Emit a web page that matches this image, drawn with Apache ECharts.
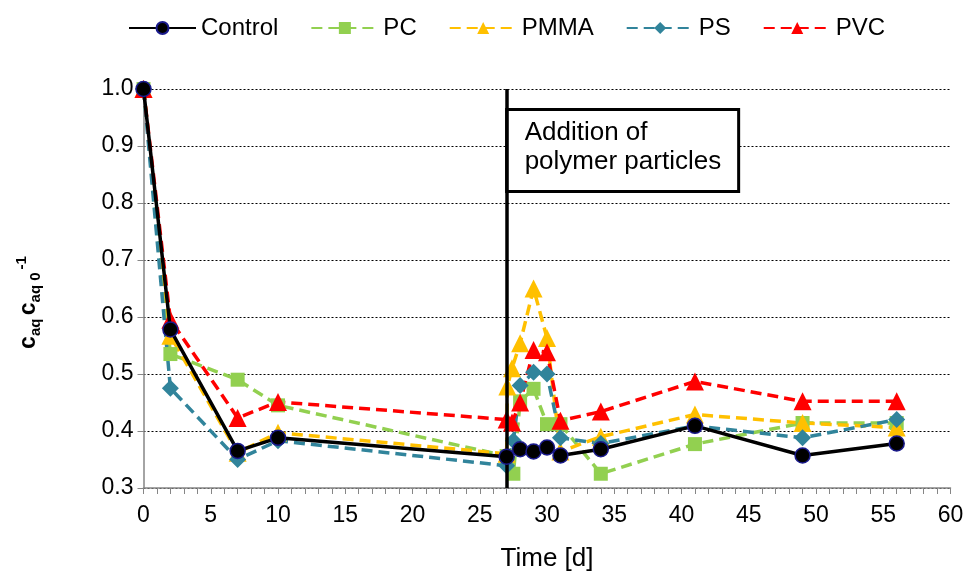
<!DOCTYPE html>
<html>
<head>
<meta charset="utf-8">
<script src="https://cdn.jsdelivr.net/npm/echarts@6/dist/echarts.min.js"></script>
<style>
html,body{margin:0;padding:0;background:#fff;}
#chart{width:970px;height:577px;}
</style>
</head>
<body>
<div id="chart"></div>
<script>
// Sampling times (days) and normalised aqueous concentrations per treatment
const controlTimes = [0, 2, 7, 10, 27, 28, 29, 30, 31, 34, 41, 49, 56];
const controlValues = [1.0, 0.578, 0.365, 0.388, 0.355, 0.368, 0.364, 0.371, 0.357, 0.368, 0.409, 0.357, 0.378];

const pcTimes = [0, 2, 7, 10, 27, 27.5, 28, 29, 30, 31, 34, 41, 49, 56];
const pcValues = [1.0, 0.535, 0.49, 0.445, 0.356, 0.325, 0.452, 0.474, 0.412, 0.412, 0.325, 0.377, 0.414, 0.414];

const pmmaTimes = [0, 2, 7, 10, 27, 27.05, 27.4, 28, 29, 30, 31, 34, 41, 49, 56];
const pmmaValues = [1.0, 0.567, 0.362, 0.397, 0.36, 0.478, 0.51, 0.554, 0.65, 0.563, 0.364, 0.39, 0.429, 0.414, 0.406];

const psTimes = [0, 2, 7, 10, 27, 27.5, 28, 29, 30, 31, 34, 41, 49, 56];
const psValues = [1.0, 0.475, 0.35, 0.383, 0.339, 0.383, 0.48, 0.503, 0.5, 0.388, 0.378, 0.409, 0.388, 0.42];

const pvcTimes = [0, 2, 7, 10, 27, 27.4, 28, 29, 30, 31, 34, 41, 49, 56];
const pvcValues = [1.0, 0.595, 0.423, 0.451, 0.42, 0.415, 0.45, 0.542, 0.538, 0.418, 0.434, 0.487, 0.452, 0.452];

const additionDay = 27;
const yTicks = [0.3, 0.4, 0.5, 0.6, 0.7, 0.8, 0.9, 1.0];
const xTicks = [0, 5, 10, 15, 20, 25, 30, 35, 40, 45, 50, 55, 60];

const FONT = '"Liberation Sans", Arial, sans-serif';

function pairs(t, v) { return t.map((x, i) => [x, v[i]]); }

const chart = echarts.init(document.getElementById('chart'), null, { renderer: 'canvas' });

function dashedSeries(name, t, v, color, symbol, size) {
  return {
    name: name, type: 'line', data: pairs(t, v),
    symbol: symbol, symbolSize: size,
    itemStyle: { color: color, borderWidth: 0 },
    lineStyle: { color: color, width: 3.5, type: [11, 6] },
    emphasis: { disabled: true }, animation: false
  };
}

chart.setOption({
  animation: false,
  textStyle: { fontFamily: FONT },
  legend: {
    top: 11, left: 123, itemGap: 32, itemWidth: 67, itemHeight: 15,
    textStyle: { fontSize: 24, color: '#000', fontFamily: FONT },
    data: ['Control', 'PC', 'PMMA', 'PS', 'PVC']
  },
  grid: { left: 143.5, right: 19.5, top: 89, bottom: 87 },
  xAxis: {
    type: 'value', min: 0, max: 60, interval: 5,
    name: 'Time [d]', nameLocation: 'middle', nameGap: 58,
    nameTextStyle: { fontSize: 26, color: '#000', fontFamily: FONT, verticalAlign: 'top' },
    axisLine: { lineStyle: { color: '#868686', width: 1.5 } },
    axisTick: { show: true, length: 6, lineStyle: { color: '#868686' } },
    minorTick: { show: true, splitNumber: 5, length: 6, lineStyle: { color: '#868686' } },
    axisLabel: { fontSize: 23, color: '#000', margin: 16, fontFamily: FONT,
      formatter: v => xTicks.indexOf(v) >= 0 ? String(v) : '' },
    splitLine: { show: false }
  },
  yAxis: {
    type: 'value', min: 0.3, max: 1.0, interval: 0.1,
    axisLine: { show: true, lineStyle: { color: '#868686', width: 1.5 } },
    axisTick: { show: true, length: 6, lineStyle: { color: '#868686' } },
    axisLabel: { fontSize: 23, color: '#000', margin: 10, fontFamily: FONT,
      formatter: v => {
        const t = yTicks.find(y => Math.abs(y - v) < 1e-6);
        return t === undefined ? '' : t.toFixed(1);
      } },
    splitLine: { show: true, lineStyle: { color: '#000', width: 1, type: [2, 2] } }
  },
  series: [
    {
      name: 'Control', type: 'line', data: pairs(controlTimes, controlValues),
      symbol: 'circle', symbolSize: 15, z: 5,
      itemStyle: { color: '#000000', borderColor: '#1a1a8c', borderWidth: 1.5 },
      lineStyle: { color: '#000', width: 3.5 },
      emphasis: { disabled: true },
      markLine: {
        silent: true, symbol: 'none', animation: false,
        lineStyle: { color: '#000', width: 3.5, type: 'solid' },
        label: { show: false },
        data: [[{ coord: [additionDay, 0.3] }, { coord: [additionDay, 1.0] }]]
      }
    },
    dashedSeries('PC', pcTimes, pcValues, '#92D050', 'rect', 14),
    dashedSeries('PMMA', pmmaTimes, pmmaValues, '#FFC000', 'triangle', 18),
    dashedSeries('PS', psTimes, psValues, '#31849B', 'diamond', 17),
    dashedSeries('PVC', pvcTimes, pvcValues, '#FF0000', 'triangle', 18)
  ]
});

// Y-axis title and the annotation box anchored at the addition line
function placeOverlays() {
  const p0 = chart.convertToPixel({ gridIndex: 0 }, [additionDay, 0.964]);
  const mid = chart.convertToPixel({ gridIndex: 0 }, [0, 0.65]);
  chart.setOption({
    graphic: [
      {
        type: 'text', x: 29, y: mid[1] + 14, rotation: Math.PI / 2,
        style: {
          text: '{c|c}{s|aq} {c|c}{s|aq 0}{p|-1}',
          align: 'center', verticalAlign: 'middle', fontFamily: FONT,
          rich: {
            c: { fontSize: 23, fontWeight: 'bold', fontFamily: FONT, fill: '#000' },
            s: { fontSize: 15, fontWeight: 'bold', fontFamily: FONT, fill: '#000', verticalAlign: 'bottom', padding: [12, 0, 0, 0] },
            p: { fontSize: 15, fontWeight: 'bold', fontFamily: FONT, fill: '#000', verticalAlign: 'top', padding: [0, 0, 14, 3] }
          }
        }
      },
      {
        type: 'group', x: p0[0], y: p0[1],
        children: [
          { type: 'rect', shape: { x: 0, y: 0, width: 232, height: 82 },
            style: { fill: '#fff', stroke: '#000', lineWidth: 3 } },
          { type: 'text', x: 18, y: 9,
            style: { text: 'Addition of\npolymer particles', fontSize: 26, lineHeight: 29, fill: '#000', fontFamily: FONT } }
        ]
      }
    ]
  });
}
placeOverlays();
</script>
</body>
</html>
